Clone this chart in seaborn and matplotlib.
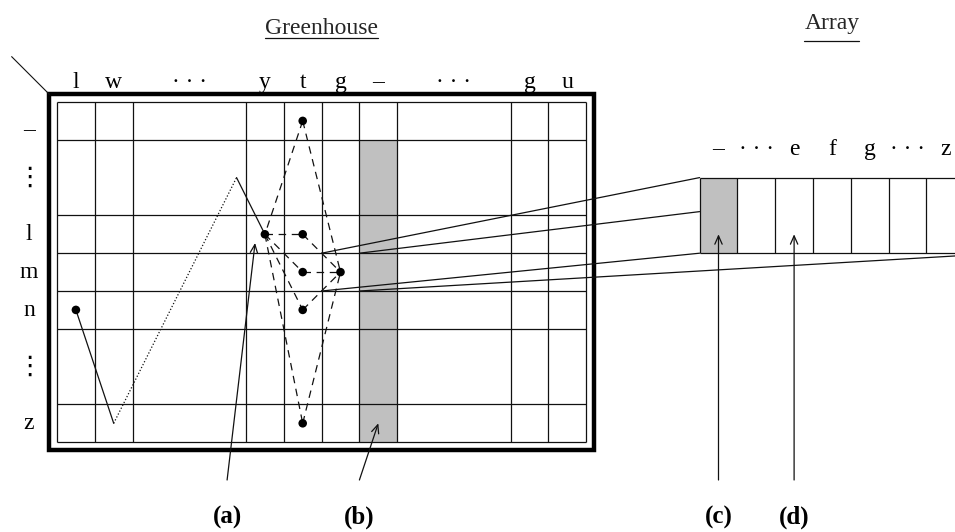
import matplotlib
matplotlib.use('Agg')
import matplotlib.pyplot as plt
import seaborn as sns
import pandas as pd
import numpy as np
from matplotlib.patches import Rectangle

# greenhouse table: column / row labels and their widths in cells
col_labels = ['l', 'w', '· · ·', 'y', 't', 'g', '–', '· · ·', 'g', 'u']
col_widths = [1, 1, 3, 1, 1, 1, 1, 3, 1, 1]
row_labels = ['–', '⋮', 'l', 'm', 'n', '⋮', 'z']
row_heights = [1, 2, 1, 1, 1, 2, 1]

# array strip on the right
array_labels = ['–', '· · ·', 'e', 'f', 'g', '· · ·', 'z']
array_cells = 8
shaded_array_cell = 0

# occupied cells (column index, row index)
dot_cols = [3, 4, 4, 4, 5, 4, 4, 0]
dot_rows = [2, 2, 0, 3, 3, 4, 6, 4]
# dashed edges between dots
edge_from = [2, 2, 0, 1, 0, 3, 0, 5, 0, 6]
edge_to = [0, 4, 1, 4, 3, 4, 5, 4, 6, 4]

# probe path (grid units): solid, dotted, solid
path_x = [0.5, 1.5, 4.75, 5.5]
path_y = [5.5, 8.5, 2.0, 3.5]
path_styles = ['-', ':', '-']

# pointers (a)-(d): head position, tail x
pointer_labels = ['(a)', '(b)', '(c)', '(d)']
pointer_head_x = [5.24, 8.5, 17.5, 19.5]
pointer_head_y = [3.73, 8.5, 3.5, 3.5]
pointer_tail_x = [4.5, 8.0, 17.5, 19.5]

sns.set_theme(style='white')
plt.rcParams['font.family'] = ['Liberation Serif', 'DejaVu Sans']

U = 37.8  # pixels per cell
fig = plt.figure(figsize=(9.55, 5.32), dpi=100)
ax = fig.add_axes([0, 0, 1, 1])

xs = np.concatenate([[0], np.cumsum(col_widths)])
ys = np.concatenate([[0], np.cumsum(row_heights)])
xc = (xs[:-1] + xs[1:]) / 2
yc = (ys[:-1] + ys[1:]) / 2
ink = '#111111'

# shaded column
gc = col_labels.index('–')
ax.add_patch(Rectangle((xs[gc], ys[1]), col_widths[gc], ys[-1] - ys[1],
                       fc='#c0c0c0', ec='none', zorder=0))
ax.vlines(xs, ys[0], ys[-1], color=ink, lw=0.9, zorder=1)
ax.hlines(ys, xs[0], xs[-1], color=ink, lw=0.9, zorder=1)

# heavy frame + corner tick
pad = 0.2
ax.add_patch(Rectangle((-pad, -pad), xs[-1] + 2 * pad, ys[-1] + 2 * pad,
                       fill=False, ec='black', lw=3.2, zorder=2))
ax.plot([-pad - 1.0, -pad], [-pad - 1.0, -pad], color=ink, lw=0.8)

for lab, x in zip(col_labels, xc):
    ax.text(x, -0.37, lab, ha='center', va='baseline', fontsize=17, color='black')
for lab, y in zip(row_labels, yc):
    if lab == '⋮':
        ax.text(-0.74, y, lab, ha='center', va='center', fontsize=19,
                family=['DejaVu Sans'], color='black')
    else:
        dy = 0.4 if lab == '–' else 0.16
        ax.text(-0.74, y + dy, lab, ha='center', va='baseline', fontsize=17, color='black')

# dots and the dashed web between them
dots = pd.DataFrame({'x': xc[dot_cols], 'y': yc[dot_rows]})
web = pd.DataFrame({
    'x': np.ravel(np.column_stack([dots.x[edge_from], dots.x[edge_to]])),
    'y': np.ravel(np.column_stack([dots.y[edge_from], dots.y[edge_to]])),
    'seg': np.repeat(np.arange(len(edge_from)), 2),
})
sns.lineplot(data=web, x='x', y='y', units='seg', estimator=None, sort=False,
             color=ink, lw=0.9, linestyle=(0, (6, 4.5)), ax=ax, zorder=3)

for i, st in enumerate(path_styles):
    seg = pd.DataFrame({'x': path_x[i:i + 2], 'y': path_y[i:i + 2]})
    sns.lineplot(data=seg, x='x', y='y', sort=False, estimator=None, color=ink,
                 lw=0.9, linestyle=st if st == '-' else (0, (1, 1.6)), ax=ax, zorder=3)

sns.scatterplot(data=dots, x='x', y='y', color='black', s=38, edgecolor='none',
                ax=ax, zorder=5, legend=False)

# array strip
ax0 = xs[-1] + 3
ay0, ay1 = 2.0, 4.0
ax.add_patch(Rectangle((ax0 + shaded_array_cell, ay0), 1, ay1 - ay0,
                       fc='#c0c0c0', ec='none', zorder=0))
ax.vlines(ax0 + np.arange(array_cells + 1), ay0, ay1, color=ink, lw=0.9)
ax.hlines([ay0, ay1], ax0, ax0 + array_cells, color=ink, lw=0.9)
for i, lab in enumerate(array_labels):
    ax.text(ax0 + i + 0.5, 1.4, lab, ha='center', va='baseline', fontsize=17, color='black')

# zoom lines from cell (g, m) to the array
cx0, cx1 = xs[col_labels.index('g')], xs[gc]
cy0, cy1 = ys[3], ys[4]
links = pd.DataFrame({
    'x': [cx0, ax0, cx1, ax0, cx0, ax0, cx1, ax0 + array_cells],
    'y': [cy0, ay0, cy0, ay0 + 0.9, cy1, ay1, cy1, ay1],
    'seg': [0, 0, 1, 1, 2, 2, 3, 3],
})
sns.lineplot(data=links, x='x', y='y', units='seg', estimator=None, sort=False,
             color=ink, lw=0.9, ax=ax, zorder=2)

# pointers
for lab, hx, hy, tx in zip(pointer_labels, pointer_head_x, pointer_head_y, pointer_tail_x):
    ax.annotate('', xy=(hx, hy), xytext=(tx, 10.0),
                arrowprops=dict(arrowstyle='->,head_length=0.5,head_width=0.22',
                                color=ink, lw=0.9, shrinkA=0, shrinkB=0))
    ax.text(tx, 10.98, lab, ha='center', va='center', fontsize=18,
            fontweight='bold', color='black')

ax.set_xlim(-57 / U, 898 / U)
ax.set_ylim(430 / U, -102 / U)
ax.axis('off')

# underlined headings
t1 = ax.text(xs[-1] / 2, -1.80, 'Greenhouse', ha='center', va='baseline', fontsize=17)
t2 = ax.text(ax0 + 3.5, -1.93, 'Array', ha='center', va='baseline', fontsize=17)
fig.canvas.draw()
inv = ax.transData.inverted()
for t, uy in [(t1, -1.69), (t2, -1.61)]:
    bb = t.get_window_extent()
    (x0, _), (x1, _) = inv.transform([[bb.x0, bb.y0], [bb.x1, bb.y1]])
    ax.plot([x0, x1], [uy, uy], color=ink, lw=0.9)

fig.savefig('out.png', dpi=100, facecolor='white')
